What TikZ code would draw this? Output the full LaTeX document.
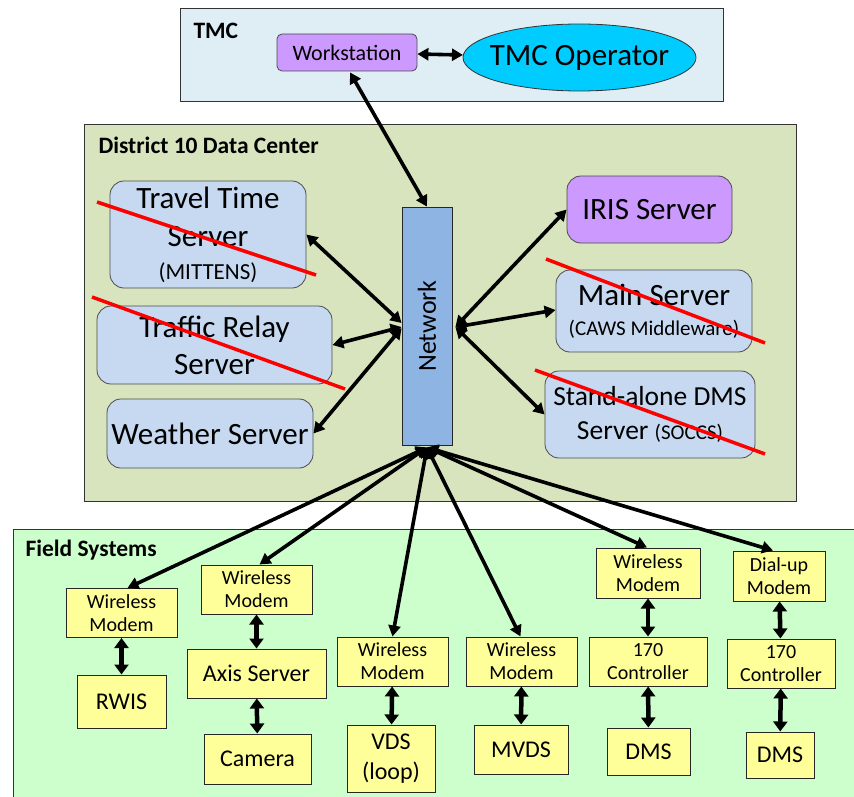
\documentclass[tikz,border=0pt]{standalone}
\usepackage{fontspec}
\usepackage{graphicx}
\setmainfont{Carlito}
\usetikzlibrary{arrows.meta,calc,shapes.geometric}
\definecolor{tmcbg}{HTML}{DEEEF4}
\definecolor{dcbg}{HTML}{D7E4BD}
\definecolor{fieldbg}{HTML}{CCFFCC}
\definecolor{srvblue}{HTML}{C6D9F1}
\definecolor{purp}{HTML}{CC99FF}
\definecolor{cyanop}{HTML}{00CCFF}
\definecolor{netblue}{HTML}{8EB4E3}
\definecolor{fyellow}{HTML}{FFFF99}
\newcommand{\fsz}[2]{\fontsize{#1}{#2}\selectfont}
\begin{document}
\begin{tikzpicture}[x=1pt,y=-1pt,
  region/.style={draw=black!80,line width=0.9pt},
  srv/.style={draw=black!70,fill=srvblue,rounded corners=14pt,align=center,inner sep=0pt,line width=0.8pt},
  fbox/.style={draw=black!85,fill=fyellow,align=center,inner sep=0pt,line width=1pt},
  conn/.style={line width=3.6pt,{Triangle[length=11pt,width=12pt]}-{Triangle[length=11pt,width=12pt]}},
  vconn/.style={line width=4.5pt,{Triangle[length=10pt,width=14pt]}-{Triangle[length=10pt,width=14pt]}},
  strike/.style={draw=red,line width=3.5pt},
  title/.style={anchor=west,font=\bfseries\fsz{23.5}{26}},
  modem/.style={fbox,font=\fsz{20}{23},minimum width=111pt,minimum height=49pt},
  dev/.style={fbox,font=\fsz{24}{30}}
]
\useasboundingbox (0,0) rectangle (854,797);
% regions
\path[region,fill=tmcbg] (180,8) rectangle (723,101);
\path[region,fill=dcbg] (84,124) rectangle (796,501);
\path[region,fill=fieldbg] (13,529) rectangle (860,805);
\node[title] (ttmc) at (190,31) {TMC};
\node[title] (tdc) at (95,145) {District 10 Data Center};
\node[title] (tfs) at (22,550) {Field Systems};
% TMC
\node[draw=black!70,fill=purp,rounded corners=5pt,minimum width=140pt,minimum height=37pt,inner sep=0pt,font=\fsz{22}{24},line width=0.8pt] (ws) at (347,52.5) {Workstation};
\node[ellipse,draw=black!80,fill=cyanop,minimum width=233pt,minimum height=67pt,inner xsep=-14pt,inner ysep=-4pt,font=\fsz{31}{34},line width=0.8pt] (op) at (579.5,57.5) {TMC Operator};
\draw[conn] (ws) -- (op);
% data center
\node[srv,minimum width=196pt,minimum height=107pt,font=\fsz{31}{38}] (tt) at (208,234.5) {Travel Time\\Server\\[-5pt]{\fsz{23}{28}(MITTENS)}};
\node[srv,minimum width=235pt,minimum height=78pt,font=\fsz{31}{37}] (tr) at (214.5,345) {Traffic Relay\\Server};
\node[srv,minimum width=206pt,minimum height=69pt,font=\fsz{31}{34}] (we) at (210,433.5) {Weather Server};
\node[draw=black!85,fill=netblue,minimum width=50pt,minimum height=238pt,inner sep=0pt,line width=0.8pt,font=\fsz{26}{30}] (net) at (427,326) {\rotatebox{90}{Network}};
\node[srv,fill=purp,minimum width=165pt,minimum height=67pt,font=\fsz{31}{34}] (iris) at (649.5,209.5) {IRIS Server};
\node[srv,minimum width=196pt,minimum height=82pt,font=\fsz{31}{30}] (main) at (654,311) {Main Server\\{\fsz{21}{30}(CAWS Middleware)}};
\node[srv,minimum width=210pt,minimum height=87pt,font=\fsz{27.5}{34}] (sa) at (650,414.5) {Stand-alone DMS\\Server {\fsz{21}{30}(SOCCS)}};
\draw[conn] ($(net.north)$) -- ($(ws.south)+(3,1)$);
\draw[conn] (tt.east) -- ($(net.west)+(0,-3)$);
\draw[conn] (tr.east) -- ($(net.west)+(0,1)$);
\draw[conn] (we.east) -- ($(net.west)+(0,2)$);
\draw[conn] ($(net.east)+(3,1)$) -- (iris.west);
\draw[conn] ($(net.east)+(3,1)$) -- ($(main.west)+(0,-1)$);
\draw[conn] ($(net.east)+(3,1)$) -- (sa.west);
\draw[strike] (97,202) -- (316,275);
\draw[strike] (92,297) -- (345,389);
\draw[strike] (546,259) -- (765,343);
\draw[strike] (535,370) -- (765,454);
% field
\node[modem] (wm1) at (121.5,613) {Wireless\\Modem};
\node[dev,minimum width=89pt,minimum height=53pt] (rwis) at (121.5,701.5) {RWIS};
\node[modem] (wm2) at (256.5,589.5) {Wireless\\Modem};
\node[dev,minimum width=139pt,minimum height=49pt] (axis) at (256.5,673.5) {Axis Server};
\node[dev,minimum width=107pt,minimum height=50pt] (cam) at (257.5,759) {Camera};
\node[modem] (wm3) at (392.5,661.5) {Wireless\\Modem};
\node[dev,minimum width=88pt,minimum height=67pt] (vds) at (391,758.5) {VDS\\(loop)};
\node[modem] (wm4) at (521.5,661.5) {Wireless\\Modem};
\node[dev,minimum width=94pt,minimum height=49pt] (mvds) at (521,749.5) {MVDS};
\node[modem,minimum width=104pt,minimum height=50pt] (wm5) at (648,573) {Wireless\\Modem};
\node[modem,minimum width=118pt] (ca) at (648,661.5) {170\\Controller};
\node[dev,minimum width=83pt,minimum height=47pt] (dms1) at (648.5,751.5) {DMS};
\node[modem,minimum width=92pt,minimum height=50pt] (du) at (779,576) {Dial-up\\Modem};
\node[modem,minimum width=108pt] (cb) at (781,663.5) {170\\Controller};
\node[dev,minimum width=68pt,minimum height=46pt] (dms2) at (780,755) {DMS};
\coordinate (nb) at ($(net.south)+(0,2)$);
\draw[conn] (nb) -- ($(wm1.north)+(6,0)$);
\draw[conn] (nb) -- ($(wm2.north)+(3,0)$);
\draw[conn] (nb) -- ($(wm3.north)+(0,0)$);
\draw[conn] (nb) -- ($(wm4.north)+(-1,0)$);
\draw[conn] (nb) -- ($(wm5.north)+(-1,0)$);
\draw[conn] (nb) -- ($(du.north)+(-6,0)$);
\draw[vconn] (wm1) -- (rwis);
\draw[vconn] (wm2) -- (axis);
\draw[vconn] (axis) -- (cam);
\draw[vconn] (wm3) -- (vds);
\draw[vconn] (wm4) -- (mvds);
\draw[vconn] (wm5) -- (ca);
\draw[vconn] (ca) -- (dms1);
\draw[vconn] (du) -- (cb);
\draw[vconn] (cb) -- (dms2);
\end{tikzpicture}
\end{document}
